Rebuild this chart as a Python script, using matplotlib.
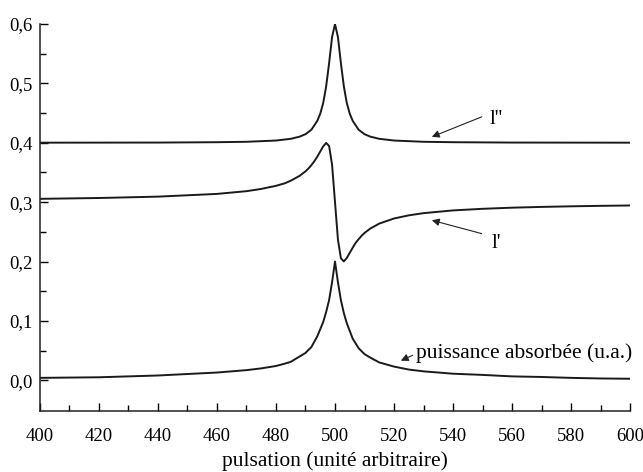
import numpy as np
import matplotlib
matplotlib.use("Agg")
import matplotlib.pyplot as plt
from matplotlib.ticker import FuncFormatter, MultipleLocator, FixedLocator

plt.rcParams['font.family'] = ['Liberation Serif', 'DejaVu Serif']

# l'' (absorption)
x_l2 = [400, 440, 460, 470, 480, 485, 488, 490, 492, 494, 495, 496, 497, 498, 499,
        500, 501, 502, 503, 504, 505, 506, 508, 510, 512, 515, 520, 530, 540, 560, 600]
y_l2 = [0.4002, 0.4004, 0.4010, 0.4017, 0.4038, 0.4067, 0.4103, 0.4145, 0.4220, 0.4370,
        0.4490, 0.4670, 0.4950, 0.5340, 0.5780, 0.6000, 0.5780, 0.5340, 0.4950, 0.4670,
        0.4490, 0.4370, 0.4220, 0.4145, 0.4103, 0.4067, 0.4038, 0.4017, 0.4010, 0.4004, 0.4002]

# l' (dispersion)
x_l1 = [400, 420, 440, 460, 470, 475, 480, 483, 485, 488, 490, 491, 492, 493, 494, 495,
        496, 497, 498, 499, 500, 501, 502, 503, 504, 505, 506, 507, 508, 509, 510, 512,
        515, 520, 525, 530, 540, 550, 560, 570, 580, 590, 600]
y_l1 = [0.3056, 0.3070, 0.3093, 0.3139, 0.3185, 0.3223, 0.3275, 0.3318, 0.3361, 0.3443,
        0.3519, 0.3567, 0.3624, 0.3690, 0.3766, 0.3853, 0.3940, 0.3998, 0.3946, 0.3633,
        0.3000, 0.2367, 0.2054, 0.2002, 0.2060, 0.2147, 0.2233, 0.2315, 0.2376, 0.2433,
        0.2481, 0.2557, 0.2639, 0.2725, 0.2778, 0.2815, 0.2861, 0.2888, 0.2907, 0.2920,
        0.2930, 0.2938, 0.2944]

# puissance absorbée
x_p = [400, 420, 440, 460, 470, 475, 480, 483, 485, 488, 490, 492, 494, 496, 497, 498,
       499, 500, 501, 502, 503, 504, 506, 508, 510, 512, 515, 520, 525, 530, 540, 550,
       560, 570, 580, 590, 600]
y_p = [0.004, 0.005, 0.008, 0.013, 0.017, 0.020, 0.024, 0.028, 0.031, 0.040, 0.046,
       0.056, 0.074, 0.098, 0.115, 0.135, 0.165, 0.200, 0.165, 0.135, 0.113, 0.096,
       0.070, 0.054, 0.044, 0.038, 0.030, 0.023, 0.018, 0.015, 0.011, 0.009, 0.0065,
       0.0055, 0.004, 0.003, 0.0025]

fig = plt.figure(figsize=(6.43, 4.72), dpi=100)
ax = fig.add_axes([0.062, 0.129, 0.918, 0.820])

lc = '#1a1a1a'
ax.plot(x_l2, y_l2, color=lc, lw=1.4)
ax.plot(x_l1, y_l1, color=lc, lw=1.4)
ax.plot(x_p, y_p, color=lc, lw=1.4)

ax.set_xlim(400, 600)
ax.set_ylim(-0.052, 0.6)
ax.spines['top'].set_visible(False)
ax.spines['right'].set_visible(False)
for s in ('left', 'bottom'):
    ax.spines[s].set_linewidth(1.1)
    ax.spines[s].set_color('#222222')

ax.xaxis.set_major_locator(MultipleLocator(20))
ax.xaxis.set_minor_locator(MultipleLocator(10))
ax.yaxis.set_major_locator(FixedLocator([0.0, 0.1, 0.2, 0.3, 0.4, 0.5, 0.6]))
ax.yaxis.set_minor_locator(FixedLocator([0.05, 0.15, 0.25, 0.35, 0.45, 0.55]))
ax.yaxis.set_major_formatter(FuncFormatter(lambda v, p: f"{v:.1f}".replace('.', ',')))
ax.tick_params(which='major', direction='in', length=6, width=1.0, labelsize=13.5)
ax.tick_params(which='minor', direction='in', length=4, width=1.0)
ax.tick_params(axis='x', which='major', pad=12)
ax.tick_params(axis='y', which='major', pad=5)

ax.set_xlabel("pulsation (unité arbitraire)", fontsize=15.5, labelpad=5)

arr = dict(arrowstyle='-|>', lw=0.8, color='#222222', mutation_scale=11, shrinkA=0, shrinkB=0)
ax.annotate("", xy=(532.8, 0.410), xytext=(549.7, 0.4437), arrowprops=arr)
ax.text(552.5, 0.439, "l''", fontsize=15, va='center', ha='left')
ax.annotate("", xy=(532.8, 0.2695), xytext=(549.7, 0.247), arrowprops=arr)
ax.text(553.0, 0.230, "l'", fontsize=15, va='center', ha='left')
ax.annotate("", xy=(522.3, 0.033), xytext=(526.3, 0.042), arrowprops=arr)
ax.text(527.3, 0.045, "puissance absorbée (u.a.)", fontsize=15.5, va='center', ha='left',
        clip_on=False)

fig.savefig("out.png", dpi=100)
